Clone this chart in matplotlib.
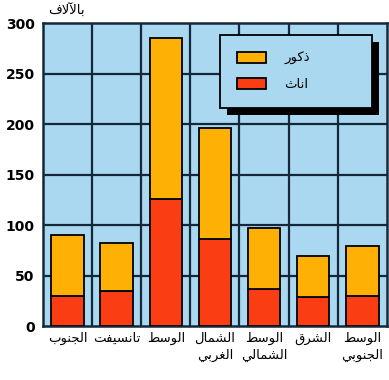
import matplotlib
matplotlib.use('Agg')
import matplotlib.pyplot as plt
from matplotlib.patches import Patch, Rectangle
import numpy as np

# data (thousands)
regions = ['الجنوب', 'تانسيفت', 'الوسط', 'الشمال\nالغربي', 'الوسط\nالشمالي', 'الشرق', 'الوسط\nالجنوبي']
females = [30, 35, 126, 86, 37, 29, 30]
males = [60, 47, 159, 110, 60, 40, 49]
yticks = [0, 50, 100, 150, 200, 250, 300]
unit_label = 'بالآلاف'
male_label = 'ذكور'
female_label = 'اناث'

BG = '#a9d8f0'
ORANGE = '#ffb005'
RED = '#fa3d12'
GRID = '#14283a'

# minimal arabic shaping: contextual forms + right-to-left order
DUAL = {
    'ب': 'ﺏﺐﺑﺒ', 'ت': 'ﺕﺖﺗﺘ', 'ث': 'ﺙﺚﺛﺜ', 'ج': 'ﺝﺞﺟﺠ',
    'س': 'ﺱﺲﺳﺴ', 'ش': 'ﺵﺶﺷﺸ', 'ط': 'ﻁﻂﻃﻄ', 'غ': 'ﻍﻎﻏﻐ',
    'ف': 'ﻑﻒﻓﻔ', 'ق': 'ﻕﻖﻗﻘ', 'ك': 'ﻙﻚﻛﻜ', 'ل': 'ﻝﻞﻟﻠ',
    'م': 'ﻡﻢﻣﻤ', 'ن': 'ﻥﻦﻧﻨ', 'ي': 'ﻱﻲﻳﻴ',
}
RIGHT = {'ا': 'ﺍﺎ', 'آ': 'ﺁﺂ', 'د': 'ﺩﺪ', 'ذ': 'ﺫﺬ', 'ر': 'ﺭﺮ', 'و': 'ﻭﻮ'}
LAMALEF = {'ا': 'ﻻﻼ', 'آ': 'ﻵﻶ'}


def shape_line(s):
    out = []
    i = 0
    while i < len(s):
        c = s[i]
        prev = i > 0 and s[i - 1] in DUAL
        if c == 'ل' and i + 1 < len(s) and s[i + 1] in LAMALEF:
            out.append(LAMALEF[s[i + 1]][1 if prev else 0])
            i += 2
            continue
        if c in DUAL:
            nxt = i + 1 < len(s) and (s[i + 1] in DUAL or s[i + 1] in RIGHT)
            f = DUAL[c]
            out.append(f[3] if prev and nxt else f[1] if prev else f[2] if nxt else f[0])
        elif c in RIGHT:
            out.append(RIGHT[c][1 if prev else 0])
        else:
            out.append(c)
        i += 1
    return ''.join(reversed(out))


def ar(s):
    return '\n'.join(shape_line(l) for l in s.split('\n'))


fig = plt.figure(figsize=(3.89, 3.80), dpi=100)
ax = fig.add_axes([0.1105, 0.142, 0.884, 0.797])
ax.set_facecolor(BG)

x = np.arange(len(regions))
w = 0.66
ax.bar(x, females, w, color=RED, edgecolor='black', linewidth=1.3, zorder=3)
ax.bar(x, males, w, bottom=females, color=ORANGE, edgecolor='black', linewidth=1.3, zorder=3)

# grid
for yv in yticks[1:-1]:
    ax.axhline(yv, color=GRID, lw=1.6, zorder=1)
for xv in x[:-1] + 0.5:
    ax.axvline(xv, color=GRID, lw=1.6, zorder=1)

ax.set_xlim(-0.5, len(regions) - 0.5)
ax.set_ylim(0, 300)
for sp in ax.spines.values():
    sp.set_color(GRID)
    sp.set_linewidth(1.8)

ax.set_yticks(yticks)
ax.set_yticklabels([str(v) for v in yticks], fontweight='bold', fontsize=10)
ax.tick_params(axis='y', length=0, pad=6)
ax.set_xticks(x)
ax.set_xticklabels([ar(r) for r in regions], fontsize=9.5, linespacing=1.4)
ax.tick_params(axis='x', direction='in', length=3, width=1.3, color=GRID, pad=4)

fig.text(0.17, 0.975, ar(unit_label), fontsize=9.5, ha='center', va='center')

handles = [Patch(facecolor=ORANGE, edgecolor='black', lw=1.3, label=ar(male_label)),
           Patch(facecolor=RED, edgecolor='black', lw=1.3, label=ar(female_label))]
leg = ax.legend(handles=handles, loc='upper left', bbox_to_anchor=(0.515, 0.723, 0.441, 0.237),
                mode='expand', fontsize=9.5, fancybox=False, framealpha=1, borderpad=1.25,
                labelspacing=1.0, handlelength=2.2, handleheight=0.9, handletextpad=1.4,
                borderaxespad=0)
leg.get_frame().set_facecolor(BG)
leg.get_frame().set_edgecolor('black')
leg.get_frame().set_linewidth(1.3)
leg.set_zorder(6)

fig.canvas.draw()
bb = leg.get_window_extent().transformed(ax.transAxes.inverted())
dx, dy = 7 / 344, 7 / 303
ax.add_patch(Rectangle((bb.x0 + dx, bb.y0 - dy), bb.width, bb.height, transform=ax.transAxes,
                       facecolor='black', edgecolor='none', zorder=5))

fig.savefig('out.png', dpi=100)
